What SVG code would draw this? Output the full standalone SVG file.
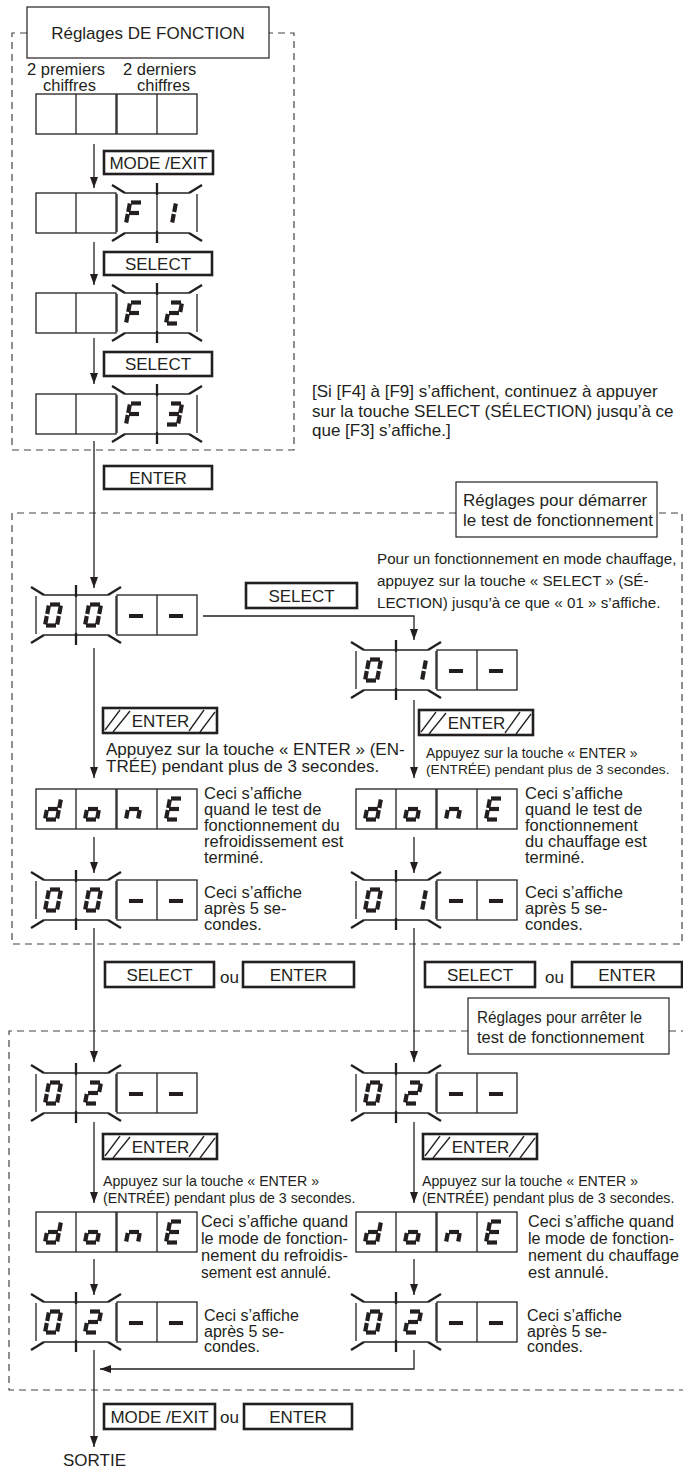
<svg xmlns="http://www.w3.org/2000/svg" xmlns:xlink="http://www.w3.org/1999/xlink" width="683" height="1469" viewBox="0 0 683 1469">
<style>
text{font-family:"Liberation Sans",Arial,Helvetica,sans-serif;fill:#231f20}
.t17{font-size:17px}
.t16{font-size:16px}
.t165{font-size:16.5px}
.t15{font-size:15.2px}
.t14{font-size:14.2px}
.c{text-anchor:middle}
.btn{fill:#fff;stroke:#231f20;stroke-width:2.6}
.box{fill:#fff;stroke:#231f20;stroke-width:1.2}
.cell{fill:none;stroke:#231f20;stroke-width:1.3}
.ray{fill:none;stroke:#231f20;stroke-width:2.3}
.seg{stroke:#231f20;stroke-width:4.2;stroke-linecap:butt}
.dsh{stroke:#231f20;stroke-width:4;stroke-linecap:butt}
.hatch{stroke:#231f20;stroke-width:1.3}
.dash{fill:none;stroke:#444;stroke-width:1.2;stroke-dasharray:7 5}
.conn{fill:none;stroke:#231f20;stroke-width:1.3}
</style>
<defs>
<marker id="arr" markerUnits="userSpaceOnUse" markerWidth="12" markerHeight="8" refX="11" refY="4" orient="auto"><path d="M0,0 L11,4 L0,8 z" fill="#231f20"/></marker>
<g id="pp"><rect class="cell" x="0" y="0" width="80" height="40"/><line class="cell" x1="40" y1="0" x2="40" y2="40"/></g>
<g id="fp">
<line class="cell" x1="0" y1="1" x2="0" y2="39"/><line class="cell" x1="80" y1="1" x2="80" y2="39"/>
<line class="cell" x1="8" y1="0" x2="72" y2="0"/><line class="cell" x1="8" y1="40" x2="72" y2="40"/>
<line class="cell" x1="40" y1="0" x2="40" y2="40"/>
<line class="ray" x1="8" y1="0" x2="-5" y2="-8"/><line class="ray" x1="72" y1="0" x2="85" y2="-8"/>
<line class="ray" x1="8" y1="40" x2="-5" y2="48"/><line class="ray" x1="72" y1="40" x2="85" y2="48"/>
<line class="ray" x1="40" y1="-10" x2="40" y2="2"/><line class="ray" x1="40" y1="38" x2="40" y2="50"/>
</g>
<line id="sa" class="seg" x1="14" y1="9.5" x2="24" y2="9.5"/>
<line id="sb" class="seg" x1="24.81" y1="10.5" x2="23.19" y2="19"/>
<line id="sc" class="seg" x1="22.81" y1="21" x2="21.19" y2="29.5"/>
<line id="sd" class="seg" x1="10" y1="30.5" x2="20" y2="30.5"/>
<line id="se" class="seg" x1="10.81" y1="21" x2="9.19" y2="29.5"/>
<line id="sf" class="seg" x1="12.81" y1="10.5" x2="11.19" y2="19"/>
<line id="sg" class="seg" x1="12" y1="20" x2="22" y2="20"/>
<g id="d0"><use xlink:href="#sa"/><use xlink:href="#sb"/><use xlink:href="#sc"/><use xlink:href="#sd"/><use xlink:href="#se"/><use xlink:href="#sf"/></g>
<g id="d2"><use xlink:href="#sa"/><use xlink:href="#sb"/><use xlink:href="#sg"/><use xlink:href="#se"/><use xlink:href="#sd"/></g>
<g id="d3"><use xlink:href="#sa"/><use xlink:href="#sb"/><use xlink:href="#sg"/><use xlink:href="#sc"/><use xlink:href="#sd"/></g>
<g id="dF"><use xlink:href="#sa"/><use xlink:href="#sf"/><use xlink:href="#sg"/><use xlink:href="#se"/></g>
<g id="dd"><use xlink:href="#sb"/><use xlink:href="#sc"/><use xlink:href="#sd"/><use xlink:href="#se"/><use xlink:href="#sg"/></g>
<g id="do"><use xlink:href="#sc"/><use xlink:href="#sd"/><use xlink:href="#se"/><use xlink:href="#sg"/></g>
<g id="dn"><use xlink:href="#sc"/><use xlink:href="#se"/><use xlink:href="#sg"/></g>
<g id="dE"><use xlink:href="#sa"/><use xlink:href="#sf"/><use xlink:href="#sg"/><use xlink:href="#se"/><use xlink:href="#sd"/></g>
<g id="d1c"><line class="seg" x1="18.81" y1="10.5" x2="17.19" y2="19"/><line class="seg" x1="16.81" y1="21" x2="15.19" y2="29.5"/></g>
<g id="d1r"><line class="seg" x1="29.81" y1="10.5" x2="28.19" y2="19"/><line class="seg" x1="27.81" y1="21" x2="26.19" y2="29.5"/></g>
<line id="dm" class="dsh" x1="12" y1="21" x2="26" y2="21"/>
<g id="hb">
<rect class="btn" x="0" y="0" width="114" height="25"/>
<line class="hatch" x1="2" y1="22" x2="17" y2="2"/><line class="hatch" x1="10" y1="24" x2="27" y2="3"/>
<line class="hatch" x1="86" y1="23" x2="101" y2="2"/><line class="hatch" x1="97" y1="24" x2="112" y2="4"/>
<text class="t17 c" x="57.5" y="18.5">ENTER</text>
</g>
</defs>

<rect width="683" height="1469" fill="#fff"/>

<g id="frames">
<path class="dash" d="M27,33H12V450H294V33H269"/>
<path class="dash" d="M456,513H12V944H682V513H657"/>
<path class="dash" d="M468,1031H9V1390H683M669,1031H683"/>
</g>

<g id="connectors">
<line class="conn" x1="94" y1="144" x2="94" y2="188" marker-end="url(#arr)"/>
<line class="conn" x1="94" y1="242" x2="94" y2="285" marker-end="url(#arr)"/>
<line class="conn" x1="94" y1="338" x2="94" y2="384" marker-end="url(#arr)"/>
<line class="conn" x1="94" y1="441" x2="94" y2="588" marker-end="url(#arr)"/>
<polyline class="conn" points="203,616 414,616 414,640" marker-end="url(#arr)"/>
<line class="conn" x1="94" y1="648" x2="94" y2="778" marker-end="url(#arr)"/>
<line class="conn" x1="414" y1="700" x2="414" y2="778" marker-end="url(#arr)"/>
<line class="conn" x1="94" y1="837" x2="94" y2="873" marker-end="url(#arr)"/>
<line class="conn" x1="414" y1="837" x2="414" y2="873" marker-end="url(#arr)"/>
<line class="conn" x1="94" y1="928" x2="94" y2="1062" marker-end="url(#arr)"/>
<line class="conn" x1="414" y1="928" x2="414" y2="1062" marker-end="url(#arr)"/>
<line class="conn" x1="94" y1="1122" x2="94" y2="1203" marker-end="url(#arr)"/>
<line class="conn" x1="414" y1="1122" x2="414" y2="1203" marker-end="url(#arr)"/>
<line class="conn" x1="94" y1="1259" x2="94" y2="1295" marker-end="url(#arr)"/>
<line class="conn" x1="414" y1="1259" x2="414" y2="1295" marker-end="url(#arr)"/>
<line class="conn" x1="94" y1="1350" x2="94" y2="1447" marker-end="url(#arr)"/>
<polyline class="conn" points="414,1350 414,1369 100,1369" marker-end="url(#arr)"/>
</g>

<g id="title-fonction">
<rect class="box" x="27" y="7" width="242" height="51"/>
<text class="t17 c" x="148" y="39">Réglages DE FONCTION</text>
</g>
<g id="labels-chiffres">
<text class="t165" x="27" y="75">2 premiers</text>
<text class="t165" x="43" y="91">chiffres</text>
<text class="t165" x="123" y="75">2 derniers</text>
<text class="t165" x="137" y="91">chiffres</text>
</g>

<g id="disp-blank"><use xlink:href="#pp" x="36" y="94"/><use xlink:href="#pp" x="117" y="94"/></g>
<g id="btn-mode1"><rect class="btn" x="104" y="151" width="109" height="23"/><text class="t17 c" x="158.5" y="168.5">MODE /EXIT</text></g>
<g id="disp-F1"><use xlink:href="#pp" x="36" y="193"/><use xlink:href="#fp" x="117" y="193"/><use xlink:href="#dF" x="117" y="193"/><use xlink:href="#d1c" x="157" y="193"/></g>
<g id="btn-select1"><rect class="btn" x="104" y="252" width="108" height="23"/><text class="t17 c" x="158" y="269.5">SELECT</text></g>
<g id="disp-F2"><use xlink:href="#pp" x="36" y="293"/><use xlink:href="#fp" x="117" y="293"/><use xlink:href="#dF" x="117" y="293"/><use xlink:href="#d2" x="157" y="293"/></g>
<g id="btn-select2"><rect class="btn" x="104" y="352" width="108" height="24"/><text class="t17 c" x="158" y="370">SELECT</text></g>
<g id="disp-F3"><use xlink:href="#pp" x="36" y="394"/><use xlink:href="#fp" x="117" y="394"/><use xlink:href="#dF" x="117" y="394"/><use xlink:href="#d3" x="157" y="394"/></g>
<g id="note-F4F9">
<text class="t17" x="312" y="397">[Si [F4] à [F9] s’affichent, continuez à appuyer</text>
<text class="t17" x="312" y="417">sur la touche SELECT (SÉLECTION) jusqu’à ce</text>
<text class="t17" x="312" y="436">que [F3] s’affiche.]</text>
</g>
<g id="btn-enter1"><rect class="btn" x="104" y="466" width="108" height="23"/><text class="t17 c" x="158" y="483.5">ENTER</text></g>

<g id="title-demarrer">
<rect class="box" x="456" y="482" width="201" height="55"/>
<text class="t17" x="463" y="506">Réglages pour démarrer</text>
<text class="t17" x="463" y="526">le test de fonctionnement</text>
</g>
<g id="note-chauffage">
<text class="t15" x="377" y="564">Pour un fonctionnement en mode chauffage,</text>
<text class="t15" x="377" y="586">appuyez sur la touche « SELECT » (SÉ-</text>
<text class="t15" x="377" y="608">LECTION) jusqu’à ce que « 01 » s’affiche.</text>
</g>
<g id="disp-00a"><use xlink:href="#fp" x="36" y="595"/><use xlink:href="#pp" x="117" y="595"/><use xlink:href="#d0" x="36" y="595"/><use xlink:href="#d0" x="76" y="595"/><use xlink:href="#dm" x="117" y="595"/><use xlink:href="#dm" x="157" y="595"/></g>
<g id="btn-select3"><rect class="btn" x="246" y="583" width="111" height="25"/><text class="t17 c" x="301.5" y="601.5">SELECT</text></g>
<g id="disp-01a"><use xlink:href="#fp" x="356" y="650"/><use xlink:href="#pp" x="437" y="650"/><use xlink:href="#d0" x="356" y="650"/><use xlink:href="#d1r" x="396" y="650"/><use xlink:href="#dm" x="437" y="650"/><use xlink:href="#dm" x="477" y="650"/></g>

<g id="btn-enter-h1"><use xlink:href="#hb" x="103" y="708"/></g>
<g id="note-enter1">
<text class="t17" x="106" y="755">Appuyez sur la touche « ENTER » (EN-</text>
<text class="t17" x="106" y="772">TRÉE) pendant plus de 3 secondes.</text>
</g>
<g id="btn-enter-h2"><use xlink:href="#hb" x="419" y="710"/></g>
<g id="note-enter2">
<text class="t14" x="426" y="758" style="font-size:13.9px">Appuyez sur la touche « ENTER »</text>
<text class="t14" x="426" y="774" style="font-size:13.7px">(ENTRÉE) pendant plus de 3 secondes.</text>
</g>

<g id="disp-doneL"><use xlink:href="#pp" x="36" y="789"/><use xlink:href="#pp" x="117" y="789"/><use xlink:href="#dd" x="36" y="789"/><use xlink:href="#do" x="76" y="789"/><use xlink:href="#dn" x="117" y="789"/><use xlink:href="#dE" x="157" y="789"/></g>
<g id="note-doneL">
<text class="t165" x="204" y="799">Ceci s’affiche</text>
<text class="t165" x="204" y="815">quand le test de</text>
<text class="t165" x="204" y="831">fonctionnement du</text>
<text class="t165" x="204" y="847">refroidissement est</text>
<text class="t165" x="204" y="863">terminé.</text>
</g>
<g id="disp-doneR"><use xlink:href="#pp" x="356" y="789"/><use xlink:href="#pp" x="437" y="789"/><use xlink:href="#dd" x="356" y="789"/><use xlink:href="#do" x="396" y="789"/><use xlink:href="#dn" x="437" y="789"/><use xlink:href="#dE" x="477" y="789"/></g>
<g id="note-doneR">
<text class="t165" x="525" y="799">Ceci s’affiche</text>
<text class="t165" x="525" y="815">quand le test de</text>
<text class="t165" x="525" y="831">fonctionnement</text>
<text class="t165" x="525" y="847">du chauffage est</text>
<text class="t165" x="525" y="863">terminé.</text>
</g>

<g id="disp-00b"><use xlink:href="#fp" x="36" y="880"/><use xlink:href="#pp" x="117" y="880"/><use xlink:href="#d0" x="36" y="880"/><use xlink:href="#d0" x="76" y="880"/><use xlink:href="#dm" x="117" y="880"/><use xlink:href="#dm" x="157" y="880"/></g>
<g id="note-5sL">
<text class="t165" x="204" y="898">Ceci s’affiche</text>
<text class="t165" x="204" y="914">après 5 se-</text>
<text class="t165" x="204" y="930">condes.</text>
</g>
<g id="disp-01b"><use xlink:href="#fp" x="356" y="880"/><use xlink:href="#pp" x="437" y="880"/><use xlink:href="#d0" x="356" y="880"/><use xlink:href="#d1r" x="396" y="880"/><use xlink:href="#dm" x="437" y="880"/><use xlink:href="#dm" x="477" y="880"/></g>
<g id="note-5sR">
<text class="t165" x="525" y="898">Ceci s’affiche</text>
<text class="t165" x="525" y="914">après 5 se-</text>
<text class="t165" x="525" y="930">condes.</text>
</g>

<g id="btns-mid-L">
<rect class="btn" x="105" y="962" width="109" height="25"/><text class="t17 c" x="159.5" y="981">SELECT</text>
<text class="t17" x="220" y="983">ou</text>
<rect class="btn" x="243" y="962" width="111" height="25"/><text class="t17 c" x="298.5" y="981">ENTER</text>
</g>
<g id="btns-mid-R">
<rect class="btn" x="425" y="962" width="110" height="25"/><text class="t17 c" x="480" y="981">SELECT</text>
<text class="t17" x="545" y="983">ou</text>
<rect class="btn" x="572" y="962" width="110" height="25"/><text class="t17 c" x="627" y="981">ENTER</text>
</g>

<g id="title-arreter">
<rect class="box" x="468" y="998" width="201" height="56"/>
<text class="t16" x="477" y="1023" textLength="165" lengthAdjust="spacingAndGlyphs">Réglages pour arrêter le</text>
<text class="t16" x="477" y="1043" textLength="167" lengthAdjust="spacingAndGlyphs">test de fonctionnement</text>
</g>

<g id="disp-02aL"><use xlink:href="#fp" x="36" y="1073"/><use xlink:href="#pp" x="117" y="1073"/><use xlink:href="#d0" x="36" y="1073"/><use xlink:href="#d2" x="76" y="1073"/><use xlink:href="#dm" x="117" y="1073"/><use xlink:href="#dm" x="157" y="1073"/></g>
<g id="disp-02aR"><use xlink:href="#fp" x="356" y="1073"/><use xlink:href="#pp" x="437" y="1073"/><use xlink:href="#d0" x="356" y="1073"/><use xlink:href="#d2" x="396" y="1073"/><use xlink:href="#dm" x="437" y="1073"/><use xlink:href="#dm" x="477" y="1073"/></g>

<g id="btn-enter-h3"><use xlink:href="#hb" x="103" y="1134"/></g>
<g id="btn-enter-h4"><use xlink:href="#hb" x="423" y="1134"/></g>
<g id="note-enter3">
<text class="t14" x="103" y="1186">Appuyez sur la touche « ENTER »</text>
<text class="t14" x="103" y="1203">(ENTRÉE) pendant plus de 3 secondes.</text>
</g>
<g id="note-enter4">
<text class="t14" x="422" y="1186">Appuyez sur la touche « ENTER »</text>
<text class="t14" x="422" y="1203">(ENTRÉE) pendant plus de 3 secondes.</text>
</g>

<g id="disp-done2L"><use xlink:href="#pp" x="36" y="1212"/><use xlink:href="#pp" x="117" y="1212"/><use xlink:href="#dd" x="36" y="1212"/><use xlink:href="#do" x="76" y="1212"/><use xlink:href="#dn" x="117" y="1212"/><use xlink:href="#dE" x="157" y="1212"/></g>
<g id="note-done2L">
<text class="t165" x="201" y="1227" textLength="147" lengthAdjust="spacingAndGlyphs">Ceci s’affiche quand</text>
<text class="t165" x="201" y="1244" textLength="147" lengthAdjust="spacingAndGlyphs">le mode de fonction-</text>
<text class="t165" x="201" y="1261" textLength="147" lengthAdjust="spacingAndGlyphs">nement du refroidis-</text>
<text class="t165" x="201" y="1278" textLength="130" lengthAdjust="spacingAndGlyphs">sement est annulé.</text>
</g>
<g id="disp-done2R"><use xlink:href="#pp" x="356" y="1212"/><use xlink:href="#pp" x="437" y="1212"/><use xlink:href="#dd" x="356" y="1212"/><use xlink:href="#do" x="396" y="1212"/><use xlink:href="#dn" x="437" y="1212"/><use xlink:href="#dE" x="477" y="1212"/></g>
<g id="note-done2R">
<text class="t165" x="528" y="1227" textLength="146" lengthAdjust="spacingAndGlyphs">Ceci s’affiche quand</text>
<text class="t165" x="528" y="1244" textLength="146" lengthAdjust="spacingAndGlyphs">le mode de fonction-</text>
<text class="t165" x="528" y="1261" textLength="151" lengthAdjust="spacingAndGlyphs">nement du chauffage</text>
<text class="t165" x="528" y="1278">est annulé.</text>
</g>

<g id="disp-02bL"><use xlink:href="#fp" x="36" y="1302"/><use xlink:href="#pp" x="117" y="1302"/><use xlink:href="#d0" x="36" y="1302"/><use xlink:href="#d2" x="76" y="1302"/><use xlink:href="#dm" x="117" y="1302"/><use xlink:href="#dm" x="157" y="1302"/></g>
<g id="note-5s2L">
<text class="t16" x="204" y="1321">Ceci s’affiche</text>
<text class="t16" x="204" y="1337">après 5 se-</text>
<text class="t16" x="204" y="1352">condes.</text>
</g>
<g id="disp-02bR"><use xlink:href="#fp" x="356" y="1302"/><use xlink:href="#pp" x="437" y="1302"/><use xlink:href="#d0" x="356" y="1302"/><use xlink:href="#d2" x="396" y="1302"/><use xlink:href="#dm" x="437" y="1302"/><use xlink:href="#dm" x="477" y="1302"/></g>
<g id="note-5s2R">
<text class="t16" x="527" y="1321">Ceci s’affiche</text>
<text class="t16" x="527" y="1337">après 5 se-</text>
<text class="t16" x="527" y="1352">condes.</text>
</g>

<g id="btns-exit">
<rect class="btn" x="104" y="1404" width="111" height="25"/><text class="t17 c" x="159.5" y="1422.5">MODE /EXIT</text>
<text class="t17" x="220" y="1423">ou</text>
<rect class="btn" x="244" y="1404" width="108" height="25"/><text class="t17 c" x="298" y="1422.5">ENTER</text>
</g>
<g id="sortie"><text class="t17" x="63" y="1466">SORTIE</text></g>
</svg>
